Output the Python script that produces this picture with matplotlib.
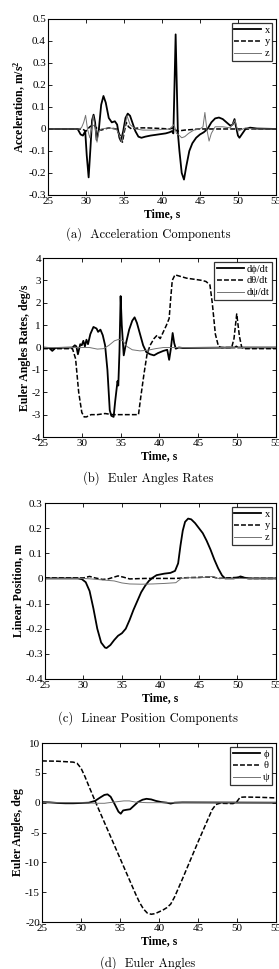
import matplotlib
matplotlib.use('Agg')
import matplotlib.pyplot as plt

plt.rcParams['font.family'] = ['Liberation Serif', 'DejaVu Serif']
plt.rcParams['mathtext.fontset'] = 'custom'
plt.rcParams['mathtext.rm'] = 'Liberation Serif'
plt.rcParams['mathtext.it'] = 'Liberation Serif:italic'
plt.rcParams['mathtext.bf'] = 'Liberation Serif:bold'
plt.rcParams['axes.unicode_minus'] = False

# (a) acceleration components
acc_t_x = [25, 28.9, 29.3, 29.6, 29.9, 30.1, 30.35, 30.6, 30.8, 31.0, 31.2, 31.4, 31.7, 32.0, 32.3, 32.6,
           33.0, 33.4, 33.8, 34.1, 34.4, 34.6, 34.9, 35.2, 35.5, 35.8, 36.1, 36.5, 36.9, 37.3, 37.8, 38.5,
           39.5, 40.5, 41.0, 41.3, 41.5, 41.65, 41.8, 41.95, 42.1, 42.3, 42.6, 42.9, 43.2, 43.6, 44.0, 44.5,
           45.0, 45.5, 46.0, 46.5, 47.0, 47.5, 48.0, 48.5, 49.0, 49.3, 49.55, 49.75, 50.0, 50.2, 50.5, 51.0,
           51.6, 52.5, 55]
acc_x = [0, 0, -0.025, -0.03, -0.01, -0.12, -0.22, -0.08, 0.04, 0.065, 0.03, -0.05, 0.0, 0.11, 0.15, 0.12,
         0.05, 0.03, 0.035, 0.02, -0.04, -0.055, -0.01, 0.05, 0.07, 0.06, 0.03, -0.01, -0.035, -0.04, -0.035, -0.03,
         -0.025, -0.02, -0.015, -0.01, -0.02, 0.2, 0.43, 0.2, -0.02, -0.1, -0.2, -0.23, -0.17, -0.1, -0.065, -0.04,
         -0.025, -0.015, 0.0, 0.03, 0.048, 0.052, 0.045, 0.03, 0.015, 0.02, 0.045, 0.01, -0.03, -0.04, -0.025, 0.0,
         0.006, 0.002, 0]
acc_t_y = [25, 29.5, 30.0, 30.5, 31.0, 31.5, 32.0, 33.0, 34.0, 34.5, 34.8, 35.0, 35.3, 35.6, 36.0, 37.0,
           38.0, 40.0, 41.0, 41.5, 42.0, 43.0, 45.0, 55]
acc_y = [0, 0, -0.01, 0.01, 0.02, 0.0, -0.005, 0.005, 0.0, -0.03, -0.06, -0.02, 0.03, 0.01, 0.0, 0.005,
         0.005, 0.002, 0.0, 0.005, -0.01, -0.005, 0.0, 0]
acc_t_z = [25, 29.0, 29.4, 29.7, 29.95, 30.2, 30.5, 30.75, 30.95, 31.2, 31.45, 31.7, 32.0, 33.0, 34.0, 34.4,
           34.7, 35.0, 35.4, 35.8, 36.5, 37.5, 39.0, 41.0, 41.6, 41.9, 42.3, 42.6, 43.0, 43.5, 44.2, 45.0,
           45.4, 45.65, 45.9, 46.2, 46.5, 47.0, 48.0, 49.0, 49.6, 50.0, 51.0, 52.0, 55]
acc_z = [0, 0, 0.005, 0.03, 0.062, 0.0, -0.04, 0.0, 0.06, 0.01, -0.06, -0.01, 0.0, 0.005, 0.0, -0.03,
         -0.06, -0.01, 0.06, 0.02, 0.0, -0.005, -0.005, 0.0, 0.02, -0.02, -0.03, -0.04, -0.035, -0.02, -0.005, 0.0,
         0.01, 0.075, 0.0, -0.055, -0.02, 0.01, 0.01, 0.005, 0.04, -0.01, 0.005, 0, 0]

# (b) Euler angle rates
rate_t_phi = [25, 25.8, 26.2, 26.6, 28.8, 29.1, 29.3, 29.5, 29.8, 30.0, 30.2, 30.4, 30.6, 30.8, 31.1, 31.5,
              31.9, 32.1, 32.4, 32.7, 33.0, 33.3, 33.6, 33.8, 34.1, 34.3, 34.5, 34.6, 34.7, 34.85, 35.0, 35.15,
              35.4, 35.7, 36.1, 36.5, 36.8, 37.1, 37.5, 37.9, 38.3, 38.8, 39.3, 39.8, 40.5, 41.0, 41.25, 41.45,
              41.7, 41.9, 42.1, 42.5, 43.0, 49.7, 49.9, 50.1, 55]
rate_phi = [0, -0.02, -0.15, -0.02, 0.0, 0.1, 0.05, -0.3, 0.15, 0.1, 0.3, 0.05, 0.35, 0.15, 0.6, 0.92,
            0.85, 0.7, 0.8, 0.55, 0.1, -1.0, -2.8, -3.05, -3.1, -2.4, -1.8, -1.5, -1.7, -0.2, 2.3, 1.0,
            -0.35, 0.2, 0.8, 1.2, 1.35, 1.1, 0.6, 0.1, -0.2, -0.3, -0.35, -0.25, -0.15, -0.1, -0.55, -0.1,
            0.65, 0.2, -0.05, 0.0, -0.02, 0.0, 0.05, 0.0, 0]
rate_t_theta = [25, 28.8, 29.2, 29.6, 30.0, 30.3, 30.6, 31.2, 32.0, 33.0, 34.0, 35.0, 36.0, 37.3, 37.6, 38.0,
                38.4, 38.8, 39.3, 39.7, 40.1, 40.5, 40.9, 41.25, 41.45, 41.65, 42.0, 42.5, 43.5, 44.5, 45.5, 46.0,
                46.5, 46.8, 47.2, 47.6, 48.0, 49.3, 49.6, 49.95, 50.3, 50.6, 51.0, 55]
rate_theta = [-0.05, -0.05, -0.5, -2.0, -2.9, -3.1, -3.1, -3.0, -3.0, -2.95, -3.0, -3.0, -3.0, -3.0, -2.2, -1.2,
              -0.3, 0.1, 0.4, 0.55, 0.4, 0.7, 1.0, 1.3, 2.2, 3.0, 3.25, 3.2, 3.1, 3.05, 3.0, 2.95,
              2.8, 2.0, 0.6, 0.05, 0.0, 0.0, 0.4, 1.5, 0.5, 0.0, -0.05, -0.05]
rate_t_psi = [25, 31.0, 32.0, 32.8, 33.5, 34.2, 34.8, 35.3, 35.8, 36.5, 37.5, 38.5, 39.5, 40.5, 55]
rate_psi = [0, 0.0, -0.07, -0.05, 0.1, 0.3, 0.37, 0.3, 0.05, -0.1, -0.15, -0.12, -0.05, 0.0, 0]

# (c) linear position components
pos_t_x = [25, 29.3, 29.8, 30.3, 30.8, 31.3, 31.8, 32.3, 32.8, 33.0, 33.5, 34.0, 34.5, 35.0, 35.5, 36.0,
           36.5, 37.0, 37.5, 38.0, 38.5, 39.0, 39.5, 40.5, 41.3, 41.9, 42.3, 42.6, 42.9, 43.2, 43.6, 44.0,
           44.5, 45.0, 45.5, 46.0, 46.5, 47.0, 47.5, 48.0, 48.4, 49.5, 50.0, 50.4, 50.9, 51.5, 55]
pos_x = [0, 0.0, -0.003, -0.015, -0.05, -0.12, -0.2, -0.255, -0.275, -0.277, -0.265, -0.245, -0.228, -0.218, -0.2, -0.165,
         -0.125, -0.09, -0.055, -0.03, -0.01, 0.003, 0.013, 0.019, 0.022, 0.03, 0.06, 0.13, 0.19, 0.225, 0.238, 0.235,
         0.22, 0.2, 0.18, 0.15, 0.115, 0.075, 0.04, 0.012, 0.0, 0.0, 0.003, 0.008, 0.003, 0.0, 0]
pos_t_y = [25, 30.0, 30.8, 31.5, 32.5, 33.2, 34.5, 35.2, 36.0, 38.0, 42.0, 43.5, 46.8, 47.5, 50.5, 51.2, 55]
pos_y = [0.002, 0.002, 0.008, 0.002, -0.004, -0.002, 0.01, 0.005, -0.002, 0.0, 0.0, 0.003, 0.006, 0.0, 0.005, 0.0, 0]
pos_t_z = [25, 30.0, 31.0, 32.5, 34.0, 35.0, 36.0, 37.5, 39.0, 40.5, 42.0, 42.7, 43.5, 45.0, 46.8, 47.5, 55]
pos_z = [0, 0.0, -0.002, -0.006, -0.01, -0.018, -0.022, -0.023, -0.022, -0.02, -0.017, 0.0, 0.003, 0.002, 0.008, 0.0, 0]

# (d) Euler angles
ang_t_phi = [25, 26, 27, 28, 29, 30, 31, 31.8, 32.5, 33.0, 33.4, 33.8, 34.3, 34.8, 35.1, 35.4,
             35.8, 36.3, 36.8, 37.3, 37.9, 38.4, 39.0, 39.6, 40.3, 41.0, 41.5, 42.0, 43.0, 55]
ang_phi = [0.1, 0.05, -0.05, -0.1, -0.1, -0.05, 0.0, 0.3, 0.9, 1.3, 1.4, 1.0, -0.2, -1.5, -1.85, -1.3,
           -1.2, -1.1, -0.5, 0.1, 0.5, 0.65, 0.55, 0.3, 0.1, 0.0, -0.15, 0.0, 0.05, 0]
ang_t_theta = [25, 27, 29, 29.5, 30.0, 30.5, 31.0, 32.0, 33.0, 34.0, 35.0, 36.0, 37.0, 37.5, 38.0, 38.5,
               39.0, 39.5, 40.0, 40.5, 41.0, 41.5, 42.0, 43.0, 44.0, 45.0, 46.0, 46.8, 47.3, 47.8, 49.5, 50.0,
               50.4, 51.0, 53.0, 55]
ang_theta = [7.0, 6.95, 6.8, 6.6, 5.8, 4.4, 2.8, -0.3, -3.3, -6.3, -9.3, -12.3, -15.3, -16.7, -17.8, -18.5,
             -18.7, -18.6, -18.3, -18.0, -17.6, -17.0, -15.8, -12.8, -9.7, -6.6, -3.6, -1.2, -0.3, -0.1, -0.15, 0.2,
             0.9, 0.95, 0.9, 0.8]
ang_t_psi = [25, 30, 32, 33, 34.2, 35.5, 36.2, 37.0, 38.5, 55]
ang_psi = [0, 0, -0.1, -0.1, 0.1, 0.3, 0.3, 0.1, 0.0, 0]

fig = plt.figure(figsize=(2.79, 9.69), dpi=100)

panels = [
    ([0.172, 0.7988, 0.817, 0.1816], (-0.3, 0.5), [-0.3, -0.2, -0.1, 0, 0.1, 0.2, 0.3, 0.4, 0.5],
     ['-0.3', '-0.2', '-0.1', '0', '0.1', '0.2', '0.3', '0.4', '0.5'],
     r'Acceleration, m/s$^\mathbf{2}$', '(a)  Acceleration Components', 0.7585,
     [(acc_t_x, acc_x, 'x'), (acc_t_y, acc_y, 'y'), (acc_t_z, acc_z, 'z')]),
    ([0.154, 0.549, 0.835, 0.1847], (-4, 4), list(range(-4, 5)), [str(v) for v in range(-4, 5)],
     'Euler Angles Rates, deg/s', '(b)  Euler Angles Rates', 0.5067,
     [(rate_t_phi, rate_phi, 'd\u03d5/dt'), (rate_t_theta, rate_theta, 'd\u03b8/dt'), (rate_t_psi, rate_psi, 'd\u03c8/dt')]),
    ([0.161, 0.2993, 0.828, 0.1816], (-0.4, 0.3), [-0.4, -0.3, -0.2, -0.1, 0, 0.1, 0.2, 0.3],
     ['-0.4', '-0.3', '-0.2', '-0.1', '0', '0.1', '0.2', '0.3'],
     'Linear Position, m', '(c)  Linear Position Components', 0.259,
     [(pos_t_x, pos_x, 'x'), (pos_t_y, pos_y, 'y'), (pos_t_z, pos_z, 'z')]),
    ([0.1505, 0.0485, 0.8387, 0.1847], (-20, 10), [-20, -15, -10, -5, 0, 5, 10],
     ['-20', '-15', '-10', '-5', '0', '5', '10'],
     'Euler Angles, deg', '(d)  Euler Angles', 0.0062,
     [(ang_t_phi, ang_phi, '\u03d5'), (ang_t_theta, ang_theta, '\u03b8'), (ang_t_psi, ang_psi, '\u03c8')]),
]

styles = [dict(color='black', lw=1.3, ls='-'),
          dict(color='black', lw=1.1, ls=(0, (3.2, 1.4))),
          dict(color='0.45', lw=0.7, ls='-')]

for pos, ylim, yticks, ylabels, ylab, cap, capy, series in panels:
    ax = fig.add_axes(pos)
    for (t, v, name), st in zip(series, styles):
        ax.plot(t, v, label=name, **st)
    ax.set_xlim(25, 55)
    ax.set_ylim(*ylim)
    ax.set_xticks([25, 30, 35, 40, 45, 50, 55])
    ax.set_yticks(yticks)
    ax.set_yticklabels(ylabels)
    ax.tick_params(direction='in', top=True, right=True, labelsize=8, length=3, width=0.6, pad=1.5)
    for s in ax.spines.values():
        s.set_linewidth(0.8)
    ax.set_xlabel('Time, s', fontsize=8.5, fontweight='bold', labelpad=1.5)
    ax.set_ylabel(ylab, fontsize=8.5, fontweight='bold', labelpad=0.5)
    leg = ax.legend(loc='upper right', fontsize=7.5, handlelength=2.6, handletextpad=0.3,
                    borderpad=0.25, labelspacing=0.25, borderaxespad=0.35, fancybox=False,
                    markerfirst=True, alignment='right')
    leg.get_frame().set_edgecolor('black')
    leg.get_frame().set_linewidth(0.9)
    for txt in leg.get_texts():
        txt.set_ha('right')
    fig.text(0.53, capy, cap, fontsize=9, family='cmr10', ha='center', va='center')

fig.savefig('out.png', dpi=100)
